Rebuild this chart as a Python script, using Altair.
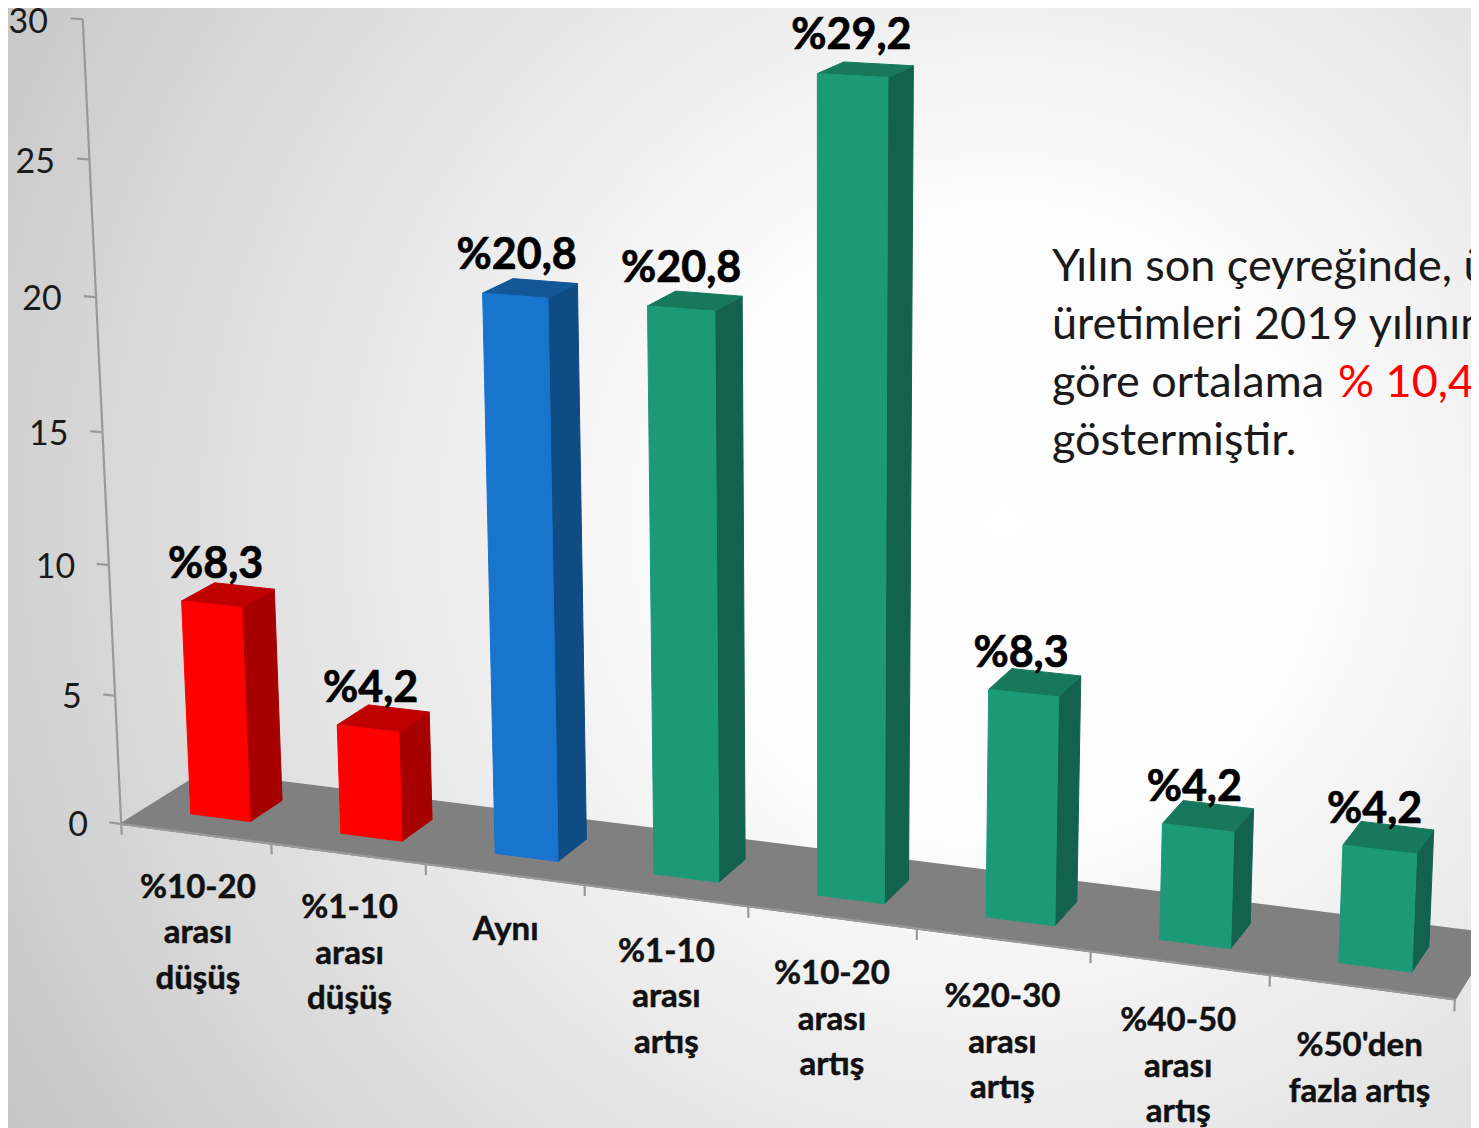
import altair as alt
import numpy as np
import pandas as pd

# ---- chart values ----
CATEGORIES = [
    ["%10-20", "arası", "düşüş"],
    ["%1-10", "arası", "düşüş"],
    ["Aynı"],
    ["%1-10", "arası", "artış"],
    ["%10-20", "arası", "artış"],
    ["%20-30", "arası", "artış"],
    ["%40-50", "arası", "artış"],
    ["%50'den", "fazla artış"],
]
VALUES = [8.3, 4.2, 20.8, 20.8, 29.2, 8.3, 4.2, 4.2]
VALUE_LABELS = ["%8,3", "%4,2", "%20,8", "%20,8", "%29,2", "%8,3", "%4,2", "%4,2"]
GROUPS = ["red", "red", "blue", "green", "green", "green", "green", "green"]
Y_TICKS = [0, 5, 10, 15, 20, 25, 30]

PALETTE = {
    "red": ("#FF0000", "#A60000", "#C00000"),
    "blue": ("#1874CD", "#0F4C84", "#125896"),
    "green": ("#1C9A78", "#13624D", "#17785C"),
}
NOTE = [
    ("Yılın son çeyreğinde, ü", "#1a1a1a", 1052, 267),
    ("üretimleri 2019 yılının", "#1a1a1a", 1052, 325),
    ("göre ortalama", "#1a1a1a", 1052, 383),
    ("% 10,42", "#FF0000", 1338, 383),
    ("göstermiştir.", "#1a1a1a", 1052, 441),
]

# ---- oblique 3D view: (category position, depth, value) -> picture position ----
GAP = 0.30  # bar inset on the category and depth axes
cal = [((i, 0, 0), p) for i, p in enumerate(
    [(122, 826), (272, 846), (426, 866), (585, 886), (748, 908), (917, 930), (1090, 953), (1270, 976), (1455, 999)])]
cal += [((0, 0, z), p) for z, p in zip(Y_TICKS, [(122, 824), (115, 695), (108, 565), (102, 431), (96, 296), (90, 159), (83, 18)])]
cal += [((0, 1, 0), (205, 770)), ((8, 1, 0), (1504, 933))]
bar_refs = {
    0: [(190.5, 813), (250.5, 821), (281.5, 800), (182, 601), (242.5, 607), (273.5, 590), (215, 584)],
    1: [(340, 833), (402, 840), (431, 819), (337.5, 725), (399.5, 732), (428, 712), (368, 706)],
    2: [(495, 853), (558, 861), (585, 840), (483, 293), (548, 298), (577, 284), (513, 279)],
    3: [(654, 873), (719, 881), (745, 860), (648, 306), (715, 310), (741, 297), (676, 292)],
    4: [(817, 895), (885, 903), (907, 881), (818, 73), (888, 77), (912, 67), (843, 63)],
    5: [(986, 916), (1055, 924), (1075, 902), (989, 690), (1059, 697), (1079, 677), (1021, 670)],
    6: [(1160, 939), (1231, 948), (1248, 923), (1163, 823), (1234, 832), (1252, 809), (1182, 801)],
    7: [(1339, 962), (1412, 971), (1426, 946), (1343, 845), (1416, 853), (1431, 830), (1360, 822)],
}
for i, pts in bar_refs.items():
    u0, u1, v0, v1, h = i + GAP, i + 1 - GAP, GAP, 1 - GAP, VALUES[i]
    world = [(u0, v0, 0), (u1, v0, 0), (u1, v1, 0), (u0, v0, h), (u1, v0, h), (u1, v1, h), (u0, v1, h)]
    cal += list(zip(world, pts))

rows = []
rhs = []
for (u, v, z), (px, py) in cal:
    rows.append([u, v, z, 1, 0, 0, 0, 0, -px * u, -px * v, -px * z])
    rows.append([0, 0, 0, 0, u, v, z, 1, -py * u, -py * v, -py * z])
    rhs += [px, py]
P = np.append(np.linalg.lstsq(np.array(rows, float), np.array(rhs, float), rcond=None)[0], 1.0).reshape(3, 4)


def project(u, v, z):
    q = P @ np.array([u, v, z, 1.0])
    return float(q[0] / q[2]), float(q[1] / q[2])


# ---- build tables ----
polys = []


def add_poly(name, color, corners):
    for k, c in enumerate(corners):
        x, y = project(*c)
        polys.append({"poly": name, "k": k, "x": x, "y": y, "color": color})


add_poly("floor", "#808080", [(0, 0, 0), (8, 0, 0), (8, 1, 0), (0, 1, 0)])
for i, val in enumerate(VALUES):
    front, side, top = PALETTE[GROUPS[i]]
    u0, u1, v0, v1 = i + GAP, i + 1 - GAP, GAP, 1 - GAP
    add_poly(f"b{i}s", side, [(u1, v0, 0), (u1, v1, 0), (u1, v1, val), (u1, v0, val)])
    add_poly(f"b{i}t", top, [(u0, v0, val), (u1, v0, val), (u1, v1, val), (u0, v1, val)])
    add_poly(f"b{i}f", front, [(u0, v0, 0), (u1, v0, 0), (u1, v0, val), (u0, v0, val)])
poly_df = pd.DataFrame(polys)

lines = []


def add_line(name, a, b):
    for k, c in enumerate((a, b)):
        x, y = project(*c)
        lines.append({"line": name, "k": k, "x": x, "y": y})


add_line("yaxis", (0, 0, 0), (0, 0, 30))
add_line("xaxis", (0, 0, 0), (8, 0, 0))
for t in Y_TICKS:
    add_line(f"yt{t}", (0, 0, t), (-0.08, 0, t))
for i in range(9):
    add_line(f"xt{i}", (i, 0, 0), (i, 0, -0.42))
line_df = pd.DataFrame(lines)

tick_rows = []
for t in Y_TICKS:
    x, y = project(-0.225, 0, t)
    tick_rows.append({"x": x, "y": y + 6, "t": str(t)})
tick_df = pd.DataFrame(tick_rows)

val_rows = []
for i, v in enumerate(VALUES):
    x, y = project(i + 0.5, GAP, v)
    val_rows.append({"x": x + 4 - 1.3 * i, "y": y - 39.5, "t": VALUE_LABELS[i]})
val_df = pd.DataFrame(val_rows)

cat_rows = []
for i, parts in enumerate(CATEGORIES):
    x, y = project(i + 0.5, 0, -2.0)
    for j, p in enumerate(parts):
        cat_rows.append({"x": x, "y": y + 3 + j * 45.5, "t": p})
cat_df = pd.DataFrame(cat_rows)
note_df = pd.DataFrame(NOTE, columns=["t", "c", "x", "y"])

# ---- scales: picture pixels, offset by the 8px page margin ----
X = alt.X("x:Q", scale=alt.Scale(domain=[8, 1471], nice=False, zero=False), axis=None)
Y = alt.Y("y:Q", scale=alt.Scale(domain=[1128, 8], nice=False, zero=False), axis=None)

bg = alt.Chart(pd.DataFrame({"x": [8], "x2": [1471], "y": [8], "y2": [1128]})).mark_rect(
    fill=alt.RadialGradient(
        gradient="radial", x1=0.68, y1=0.47, r1=0.0, x2=0.68, y2=0.47, r2=1.0,
        stops=[
            alt.GradientStop(offset=0.0, color="#ffffff"),
            alt.GradientStop(offset=0.22, color="#fcfcfc"),
            alt.GradientStop(offset=0.6, color="#d9d9d9"),
            alt.GradientStop(offset=0.86, color="#bebebe"),
            alt.GradientStop(offset=1.0, color="#b8b8b8"),
        ],
    )
).encode(x=X, x2="x2:Q", y=Y, y2="y2:Q")

axis_lines = alt.Chart(line_df).mark_line(color="#999999", strokeWidth=2.2).encode(
    x=X, y=Y, detail="line:N", order="k:Q"
)

floor = alt.Chart(poly_df[poly_df.poly == "floor"]).mark_line(filled=True, interpolate="linear-closed").encode(
    x=X, y=Y, order="k:Q", detail="poly:N",
    fill=alt.Fill("color:N", scale=None), stroke=alt.Stroke("color:N", scale=None),
)
bars = alt.Chart(poly_df[poly_df.poly != "floor"]).mark_line(filled=True, interpolate="linear-closed", strokeWidth=1).encode(
    x=X, y=Y, order="k:Q", detail="poly:N",
    fill=alt.Fill("color:N", scale=None), stroke=alt.Stroke("color:N", scale=None),
)

tick_text = alt.Chart(tick_df).mark_text(font="Lato", fontSize=34, align="right", baseline="middle", color="#1a1a1a").encode(x=X, y=Y, text="t:N")
val_text = alt.Chart(val_df).mark_text(font="Lato", fontSize=43, fontWeight="bold", align="center", baseline="middle", color="#000000", stroke="#000000", strokeWidth=0.7).encode(x=X, y=Y, text="t:N")
cat_text = alt.Chart(cat_df).mark_text(font="Lato", fontSize=33, fontWeight="bold", align="center", baseline="middle", color="#111111", stroke="#111111", strokeWidth=0.5).encode(x=X, y=Y, text="t:N")
note_text = alt.Chart(note_df).mark_text(font="Lato", fontSize=45, align="left", baseline="middle").encode(
    x=X, y=Y, text="t:N", color=alt.Color("c:N", scale=None)
)

chart = alt.layer(bg, floor, axis_lines, bars, tick_text, val_text, cat_text, note_text).properties(
    width=1463, height=1120, padding=0, autosize=alt.AutoSizeParams(type="none")
).configure_view(stroke=None)

chart.save("out.html", embed_options={"renderer": "svg", "actions": False})
